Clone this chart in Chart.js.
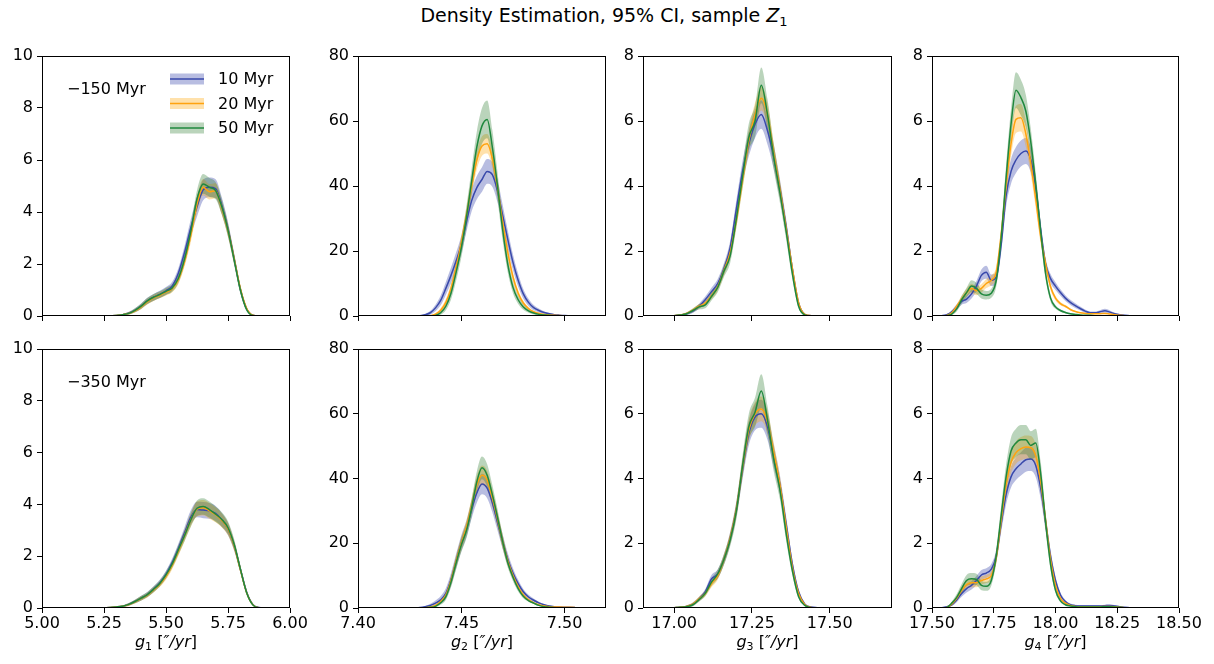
<!DOCTYPE html>
<html><head><meta charset="utf-8">
<script src="https://cdn.jsdelivr.net/npm/chart.js@4.4.1/dist/chart.umd.min.js"></script>
<style>
html,body{margin:0;padding:0;background:#fff;width:1214px;height:664px;overflow:hidden;position:relative;}
#title{position:absolute;left:0;top:4px;width:1208px;text-align:center;font:19px "DejaVu Sans";color:#000;line-height:22px;white-space:nowrap;}
#title .sub{font-size:13px;position:relative;top:4px;}
canvas{position:absolute;}
</style></head><body>
<div id="title">Density Estimation, 95% CI, sample <i>Z</i><span class="sub">1</span></div>
<script>
// ---------------- data ----------------
const seriesNames = ['10 Myr', '20 Myr', '50 Myr'];
const rowNotes = ['\u2212150 Myr', '\u2212350 Myr'];

const x_g1 = [5.200,5.225,5.250,5.275,5.300,5.325,5.350,5.375,5.400,5.425,5.450,5.475,5.500,5.525,5.550,5.575,5.600,5.625,5.650,5.675,5.700,5.725,5.750,5.775,5.800,5.825,5.850,5.875,5.900];
const x_g2 = [7.4200,7.4225,7.4250,7.4275,7.4300,7.4325,7.4350,7.4375,7.4400,7.4425,7.4450,7.4475,7.4500,7.4525,7.4550,7.4575,7.4600,7.4625,7.4650,7.4675,7.4700,7.4725,7.4750,7.4775,7.4800,7.4825,7.4850,7.4875,7.4900,7.4925,7.4950,7.4975,7.5000,7.5025,7.5050,7.5075,7.5100];
const x_g3 = [16.94,16.96,16.98,17.00,17.02,17.04,17.06,17.08,17.10,17.12,17.14,17.16,17.18,17.20,17.22,17.24,17.26,17.28,17.30,17.32,17.34,17.36,17.38,17.40,17.42,17.44,17.46,17.48,17.50];
const x_g4 = [17.52,17.54,17.56,17.58,17.60,17.62,17.64,17.66,17.68,17.70,17.72,17.74,17.76,17.78,17.80,17.82,17.84,17.86,17.88,17.90,17.92,17.94,17.96,17.98,18.00,18.02,18.04,18.06,18.08,18.10,18.12,18.14,18.16,18.18,18.20,18.22,18.24,18.26,18.28,18.30,18.32,18.34,18.36,18.38,18.40];

const xticks_g1 = [5.00,5.25,5.50,5.75,6.00];
const xticks_g2 = [7.40,7.45,7.50];
const xticks_g3 = [17.00,17.25,17.50];
const xticks_g4 = [17.50,17.75,18.00,18.25,18.50];
const yticks_g1 = [0,2,4,6,8,10];
const yticks_g2 = [0,20,40,60,80];
const yticks_g3 = [0,2,4,6,8];
const yticks_g4 = [0,2,4,6,8];

// g1, -150 Myr
const g1_150_10 = [0,0,0,0.01,0.02,0.05,0.11,0.22,0.38,0.58,0.72,0.83,0.97,1.15,1.65,2.45,3.4,4.2,4.85,4.95,4.9,4.25,3.35,2.2,1.02,0.28,0.03,0,0];
const g1_150_20 = [0,0,0,0.01,0.02,0.05,0.1,0.2,0.35,0.55,0.7,0.8,0.92,1.05,1.4,2.1,3.1,4.3,4.95,4.78,4.82,4.15,3.3,2.2,1.05,0.3,0.03,0,0];
const g1_150_50 = [0,0,0,0.01,0.02,0.05,0.1,0.22,0.38,0.58,0.72,0.82,0.95,1.08,1.45,2.2,3.25,4.5,5.08,4.95,4.82,4.2,3.3,2.15,1.0,0.25,0.02,0,0];
const g1_150_10_ci = [0,0,0,0.01,0.02,0.03,0.05,0.08,0.1,0.12,0.13,0.14,0.15,0.17,0.2,0.25,0.32,0.38,0.4,0.38,0.36,0.32,0.27,0.2,0.14,0.07,0.02,0,0];
const g1_150_20_ci = [0,0,0,0.01,0.02,0.03,0.05,0.07,0.09,0.11,0.12,0.12,0.13,0.14,0.17,0.2,0.26,0.3,0.32,0.3,0.29,0.27,0.24,0.18,0.12,0.06,0.02,0,0];
const g1_150_50_ci = [0,0,0,0.01,0.02,0.03,0.05,0.08,0.1,0.12,0.13,0.13,0.14,0.15,0.18,0.22,0.28,0.34,0.38,0.36,0.33,0.3,0.26,0.2,0.14,0.07,0.02,0,0];

// g1, -350 Myr
const g1_350_10 = [0,0,0.01,0.02,0.04,0.07,0.14,0.25,0.38,0.52,0.73,0.97,1.3,1.75,2.3,2.9,3.5,3.8,3.78,3.75,3.65,3.4,3.05,2.4,1.5,0.62,0.14,0.02,0];
const g1_350_20 = [0,0,0.01,0.02,0.04,0.07,0.13,0.24,0.37,0.5,0.7,0.92,1.22,1.65,2.2,2.8,3.4,3.82,3.87,3.75,3.6,3.38,3.05,2.4,1.48,0.6,0.13,0.01,0];
const g1_350_50 = [0,0,0.01,0.02,0.04,0.07,0.14,0.25,0.38,0.52,0.72,0.95,1.28,1.7,2.25,2.8,3.4,3.85,3.92,3.8,3.62,3.42,3.1,2.45,1.5,0.6,0.12,0.01,0];
const g1_350_10_ci = [0,0,0.01,0.01,0.02,0.03,0.05,0.07,0.09,0.1,0.11,0.12,0.14,0.16,0.19,0.23,0.27,0.3,0.31,0.3,0.29,0.27,0.24,0.19,0.13,0.07,0.03,0.01,0];
const g1_350_20_ci = [0,0,0.01,0.01,0.02,0.03,0.05,0.07,0.08,0.09,0.1,0.11,0.13,0.15,0.18,0.21,0.25,0.29,0.3,0.3,0.29,0.27,0.24,0.19,0.13,0.07,0.03,0.01,0];
const g1_350_50_ci = [0,0,0.01,0.01,0.02,0.03,0.05,0.07,0.09,0.1,0.11,0.12,0.14,0.16,0.19,0.22,0.26,0.3,0.32,0.31,0.3,0.28,0.25,0.2,0.14,0.08,0.03,0.01,0];

// g2, -150 Myr
const g2_150_10 = [0,0,0,0,0.1,0.4,1.0,2.5,4.8,8.5,12.5,17,22,29,35.5,39.5,42,44.5,43.5,38.5,31,23.5,16.5,11,6.8,4.2,2.6,1.7,1.1,0.7,0.4,0.25,0.15,0.1,0.05,0.02,0];
const g2_150_20 = [0,0,0,0,0,0,0.1,0.6,1.8,4.2,8.5,15,22.5,31,40,48,52.3,53,48.5,39.5,29,19.5,12,7,4,2.3,1.3,0.8,0.5,0.3,0.2,0.12,0.08,0.05,0.03,0.01,0];
const g2_150_50 = [0,0,0,0,0,0,0,0.2,1.0,3.0,7,13.5,21,30.5,41.5,52,58.5,60.5,52,40,26.5,15.8,8.8,5,2.8,1.6,0.9,0.5,0.3,0.2,0.1,0.05,0.02,0,0,0,0];
const g2_150_10_ci = [0,0,0,0,0.1,0.3,0.6,1,1.5,2,2.4,2.6,2.8,3,3.3,3.6,3.8,3.8,3.7,3.5,3.2,2.8,2.4,2,1.5,1.1,0.8,0.6,0.4,0.3,0.2,0.15,0.1,0.08,0.05,0.02,0];
const g2_150_20_ci = [0,0,0,0,0,0,0.05,0.3,0.6,1,1.6,2,2.3,2.5,2.7,2.9,3,3,2.9,2.6,2.2,1.8,1.4,1,0.7,0.5,0.35,0.25,0.2,0.15,0.1,0.08,0.06,0.04,0.02,0.01,0];
const g2_150_50_ci = [0,0,0,0,0,0,0,0.2,0.6,1.2,2,2.6,3,3.5,4,4.8,5.5,5.8,5.2,4.3,3.3,2.5,1.8,1.3,0.9,0.6,0.4,0.3,0.2,0.15,0.1,0.05,0.02,0,0,0,0];

// g2, -350 Myr
const g2_350_10 = [0,0,0,0.05,0.15,0.4,0.8,1.5,2.5,4.5,8.8,14.5,20,24.5,30.5,35.5,38.3,37,32.5,26.5,20.5,15,10.8,7.5,5,3.4,2.4,1.6,1,0.6,0.4,0.3,0.25,0.2,0.15,0.1,0.05];
const g2_350_20 = [0,0,0,0,0.02,0.1,0.3,0.8,2,4,8.5,14.5,20,25,31.5,38,41,39.5,34,27.5,20.5,14.5,10,6.5,4,2.5,1.6,1,0.6,0.4,0.3,0.3,0.25,0.2,0.15,0.1,0.05];
const g2_350_50 = [0,0,0,0,0,0.05,0.2,0.5,1.6,3.5,8,14,19.5,24,31,39,43.3,41,35,28,20.5,14,9.5,6,3.6,2.3,1.5,0.8,0.4,0.25,0.1,0.05,0.02,0,0,0,0];
const g2_350_10_ci = [0,0,0,0.05,0.1,0.25,0.5,0.8,1.2,1.6,2,2.3,2.5,2.6,2.8,3,3.2,3.1,2.9,2.6,2.3,1.9,1.5,1.2,0.9,0.7,0.5,0.35,0.25,0.2,0.15,0.12,0.1,0.08,0.06,0.04,0.02];
const g2_350_20_ci = [0,0,0,0,0.02,0.05,0.12,0.25,0.5,0.9,1.4,1.8,2,2.2,2.5,2.8,3,2.9,2.7,2.4,2,1.5,1.1,0.8,0.6,0.4,0.3,0.2,0.12,0.1,0.08,0.08,0.07,0.06,0.05,0.03,0.02];
const g2_350_50_ci = [0,0,0,0,0,0.05,0.15,0.3,0.6,1,1.6,2,2.2,2.4,2.8,3.2,3.5,3.4,3,2.6,2.1,1.6,1.2,0.9,0.6,0.4,0.3,0.2,0.1,0.08,0.05,0.03,0.01,0,0,0,0];

// g3, -150 Myr
const g3_150_10 = [0,0,0,0.01,0.03,0.07,0.15,0.3,0.5,0.75,1.0,1.45,2.1,3.3,4.45,5.3,5.9,6.2,5.7,4.9,3.9,2.75,1.45,0.4,0.05,0.01,0,0,0];
const g3_150_20 = [0,0,0,0.01,0.03,0.08,0.18,0.3,0.4,0.62,0.9,1.4,1.95,2.95,4.2,5.4,6.2,6.7,6.2,5.0,3.9,2.7,1.45,0.4,0.05,0.01,0,0,0];
const g3_150_50 = [0,0,0,0.01,0.03,0.07,0.17,0.28,0.34,0.6,0.88,1.38,1.85,3.0,4.3,5.5,6.0,7.1,6.2,4.9,3.8,2.6,1.3,0.3,0.03,0,0,0,0];
const g3_150_10_ci = [0,0,0,0.01,0.02,0.04,0.06,0.08,0.1,0.12,0.14,0.17,0.21,0.27,0.33,0.38,0.42,0.44,0.42,0.37,0.3,0.23,0.15,0.06,0.02,0,0,0,0];
const g3_150_20_ci = [0,0,0,0.01,0.02,0.03,0.05,0.07,0.08,0.1,0.12,0.15,0.18,0.23,0.28,0.32,0.36,0.38,0.36,0.32,0.26,0.2,0.13,0.05,0.01,0,0,0,0];
const g3_150_50_ci = [0,0,0,0.01,0.02,0.04,0.06,0.08,0.1,0.12,0.15,0.18,0.22,0.28,0.35,0.42,0.48,0.55,0.48,0.4,0.32,0.25,0.16,0.06,0.01,0,0,0,0];

// g3, -350 Myr
const g3_350_10 = [0,0,0,0.01,0.02,0.05,0.12,0.28,0.5,0.9,1.05,1.5,2.15,3.05,4.3,5.4,5.9,6.0,5.6,4.7,3.8,2.6,1.35,0.5,0.12,0.03,0.01,0,0];
const g3_350_20 = [0,0,0,0.01,0.02,0.05,0.12,0.28,0.45,0.75,1.0,1.5,2.15,3.05,4.35,5.5,6.0,6.15,5.75,4.8,3.8,2.5,1.25,0.45,0.1,0.02,0,0,0];
const g3_350_50 = [0,0,0,0.01,0.02,0.04,0.1,0.26,0.45,0.8,1.05,1.5,2.1,3.0,4.4,5.6,6.05,6.7,5.8,4.6,3.65,2.3,1.15,0.35,0.08,0.01,0,0,0];
const g3_350_10_ci = [0,0,0,0.01,0.02,0.03,0.05,0.07,0.09,0.12,0.14,0.16,0.2,0.25,0.31,0.37,0.41,0.43,0.41,0.36,0.29,0.22,0.14,0.06,0.02,0.01,0,0,0];
const g3_350_20_ci = [0,0,0,0.01,0.02,0.03,0.05,0.07,0.09,0.11,0.13,0.15,0.18,0.23,0.28,0.33,0.36,0.38,0.36,0.31,0.26,0.19,0.12,0.05,0.02,0,0,0,0];
const g3_350_50_ci = [0,0,0,0.01,0.02,0.03,0.05,0.07,0.09,0.12,0.14,0.17,0.2,0.26,0.33,0.4,0.45,0.52,0.45,0.38,0.3,0.22,0.14,0.06,0.02,0,0,0,0];

// g4, -150 Myr
const g4_150_10 = [0,0.01,0.04,0.13,0.28,0.45,0.52,0.68,0.92,1.25,1.35,1.1,1.2,2.2,3.7,4.45,4.8,5.0,5.08,4.8,3.95,2.65,1.6,1.15,0.92,0.72,0.55,0.42,0.32,0.23,0.15,0.1,0.1,0.13,0.16,0.12,0.07,0.04,0.02,0.01,0,0,0,0,0];
const g4_150_20 = [0,0,0.02,0.1,0.3,0.52,0.72,0.85,0.78,0.85,1.0,1.1,1.35,2.5,4.0,5.3,6.05,6.1,5.6,4.7,3.6,2.45,1.6,0.9,0.55,0.38,0.3,0.2,0.14,0.1,0.08,0.07,0.07,0.07,0.08,0.06,0.04,0.02,0.01,0,0,0,0,0,0];
const g4_150_50 = [0,0,0.01,0.06,0.22,0.5,0.72,0.92,0.85,0.68,0.64,0.7,1.1,2.4,4.25,5.9,6.95,6.72,6.3,5.35,4.05,2.6,1.3,0.55,0.28,0.17,0.11,0.07,0.05,0.03,0.02,0.02,0.01,0.01,0.01,0.01,0,0,0,0,0,0,0,0,0];
const g4_150_10_ci = [0,0.01,0.02,0.05,0.08,0.1,0.12,0.14,0.16,0.18,0.2,0.18,0.18,0.26,0.34,0.38,0.4,0.4,0.4,0.38,0.32,0.25,0.18,0.14,0.12,0.1,0.09,0.08,0.07,0.06,0.05,0.04,0.04,0.05,0.06,0.05,0.03,0.02,0.01,0.01,0,0,0,0,0];
const g4_150_20_ci = [0,0,0.01,0.03,0.06,0.1,0.12,0.14,0.14,0.13,0.14,0.15,0.18,0.25,0.32,0.38,0.42,0.42,0.4,0.35,0.28,0.22,0.16,0.1,0.07,0.05,0.04,0.03,0.02,0.02,0.02,0.01,0.01,0.01,0.02,0.01,0.01,0.01,0,0,0,0,0,0,0];
const g4_150_50_ci = [0,0,0.01,0.03,0.08,0.12,0.15,0.18,0.17,0.14,0.13,0.14,0.2,0.3,0.4,0.48,0.55,0.55,0.5,0.42,0.35,0.26,0.18,0.1,0.06,0.04,0.03,0.02,0.02,0.01,0.01,0.01,0.01,0.01,0.01,0.01,0,0,0,0,0,0,0,0,0];

// g4, -350 Myr
const g4_350_10 = [0,0.01,0.04,0.1,0.25,0.45,0.6,0.7,0.85,1.02,1.08,1.2,1.6,2.6,3.5,4.05,4.3,4.45,4.58,4.6,4.4,3.7,2.65,1.6,0.85,0.4,0.2,0.1,0.07,0.06,0.06,0.06,0.06,0.06,0.07,0.08,0.06,0.04,0.02,0.01,0,0,0,0,0];
const g4_350_20 = [0,0,0.02,0.12,0.3,0.55,0.72,0.78,0.78,0.85,0.9,1.0,1.55,2.7,3.8,4.5,4.8,4.92,4.97,4.95,4.7,3.9,2.7,1.5,0.7,0.3,0.15,0.08,0.05,0.04,0.04,0.04,0.04,0.04,0.05,0.05,0.04,0.02,0.01,0,0,0,0,0,0];
const g4_350_50 = [0,0,0.02,0.15,0.33,0.6,0.85,0.9,0.88,0.7,0.67,0.85,1.6,2.85,4.05,4.85,5.1,5.2,5.2,5.02,5.1,4.15,2.65,1.35,0.55,0.22,0.1,0.06,0.04,0.03,0.03,0.03,0.03,0.03,0.04,0.04,0.03,0.02,0.01,0,0,0,0,0,0];
const g4_350_10_ci = [0,0.01,0.02,0.04,0.07,0.1,0.12,0.13,0.14,0.15,0.15,0.16,0.2,0.26,0.3,0.33,0.35,0.36,0.37,0.37,0.36,0.32,0.26,0.18,0.12,0.08,0.05,0.04,0.03,0.03,0.03,0.03,0.03,0.03,0.03,0.03,0.03,0.02,0.01,0.01,0,0,0,0,0];
const g4_350_20_ci = [0,0,0.01,0.04,0.08,0.11,0.13,0.14,0.14,0.13,0.13,0.14,0.18,0.25,0.3,0.33,0.35,0.36,0.36,0.36,0.34,0.3,0.23,0.14,0.08,0.04,0.02,0.01,0.01,0.01,0.01,0.01,0.01,0.01,0.01,0.01,0.01,0,0,0,0,0,0,0,0];
const g4_350_50_ci = [0,0,0.01,0.05,0.1,0.14,0.17,0.18,0.18,0.15,0.14,0.16,0.22,0.3,0.38,0.42,0.44,0.45,0.45,0.44,0.44,0.38,0.28,0.16,0.08,0.04,0.02,0.01,0.01,0.01,0.01,0.01,0.01,0.01,0.01,0.01,0.01,0,0,0,0,0,0,0,0];

// ---------------- styling / layout ----------------
const lineColors = ['#3949ab', '#ffa30f', '#1f883d'];
const bandColors = ['rgba(57,73,171,0.36)', 'rgba(255,165,0,0.33)', 'rgba(46,125,50,0.33)'];
const colLeft = [42, 358, 643, 932];
const colWidth = [248, 248, 249, 247];
const rowTop = [56, 349];
const rowHeight = [260, 259];
const FONT = '"DejaVu Sans", sans-serif';
const FS = 16;

const panels = [
  {r:0,c:0,xs:x_g1,ys:[g1_150_10,g1_150_20,g1_150_50],ci:[g1_150_10_ci,g1_150_20_ci,g1_150_50_ci],xmin:5.0,xmax:6.0,xt:xticks_g1,ymax:10,yt:yticks_g1,sub:'1',legend:true},
  {r:0,c:1,xs:x_g2,ys:[g2_150_10,g2_150_20,g2_150_50],ci:[g2_150_10_ci,g2_150_20_ci,g2_150_50_ci],xmin:7.40,xmax:7.52,xt:xticks_g2,ymax:80,yt:yticks_g2,sub:'2'},
  {r:0,c:2,xs:x_g3,ys:[g3_150_10,g3_150_20,g3_150_50],ci:[g3_150_10_ci,g3_150_20_ci,g3_150_50_ci],xmin:16.9,xmax:17.7,xt:xticks_g3,ymax:8,yt:yticks_g3,sub:'3'},
  {r:0,c:3,xs:x_g4,ys:[g4_150_10,g4_150_20,g4_150_50],ci:[g4_150_10_ci,g4_150_20_ci,g4_150_50_ci],xmin:17.5,xmax:18.5,xt:xticks_g4,ymax:8,yt:yticks_g4,sub:'4'},
  {r:1,c:0,xs:x_g1,ys:[g1_350_10,g1_350_20,g1_350_50],ci:[g1_350_10_ci,g1_350_20_ci,g1_350_50_ci],xmin:5.0,xmax:6.0,xt:xticks_g1,ymax:10,yt:yticks_g1,sub:'1'},
  {r:1,c:1,xs:x_g2,ys:[g2_350_10,g2_350_20,g2_350_50],ci:[g2_350_10_ci,g2_350_20_ci,g2_350_50_ci],xmin:7.40,xmax:7.52,xt:xticks_g2,ymax:80,yt:yticks_g2,sub:'2'},
  {r:1,c:2,xs:x_g3,ys:[g3_350_10,g3_350_20,g3_350_50],ci:[g3_350_10_ci,g3_350_20_ci,g3_350_50_ci],xmin:16.9,xmax:17.7,xt:xticks_g3,ymax:8,yt:yticks_g3,sub:'3'},
  {r:1,c:3,xs:x_g4,ys:[g4_350_10,g4_350_20,g4_350_50],ci:[g4_350_10_ci,g4_350_20_ci,g4_350_50_ci],xmin:17.5,xmax:18.5,xt:xticks_g4,ymax:8,yt:yticks_g4,sub:'4'}
];

const PADL = 60, PADT = 15, PADR = 30;

function drawParts(ctx, parts, cx, baseY) {
  let total = 0;
  parts.forEach(p => { ctx.font = p.font; p.w = ctx.measureText(p.t).width; total += p.w; });
  let x = cx - total / 2;
  ctx.textAlign = 'left'; ctx.textBaseline = 'alphabetic'; ctx.fillStyle = '#000';
  parts.forEach(p => { ctx.font = p.font; ctx.fillText(p.t, x, baseY + (p.dy || 0)); x += p.w; });
}

const decor = {
  id: 'decor',
  afterDatasetsDraw(chart, args, opts) {
    const {ctx, chartArea: a} = chart;
    const P = opts.panel;
    ctx.save();
    ctx.strokeStyle = '#000'; ctx.lineWidth = 1;
    ctx.strokeRect(Math.round(a.left) + 0.5, Math.round(a.top) + 0.5, Math.round(a.right - a.left) - 1, Math.round(a.bottom - a.top) - 1);
    if (P.c === 0) {
      ctx.font = FS + 'px ' + FONT; ctx.fillStyle = '#000'; ctx.textAlign = 'left'; ctx.textBaseline = 'middle';
      ctx.fillText(rowNotes[P.r], a.left + 25, a.top + 34);
    }
    if (P.legend) {
      const rows = [23, 47.5, 72];
      for (let i = 0; i < 3; i++) {
        const y = a.top + rows[i];
        const x0 = a.left + 128, w = 34, h = 11;
        ctx.fillStyle = bandColors[i];
        ctx.fillRect(x0, y - h / 2, w, h);
        ctx.strokeStyle = lineColors[i]; ctx.lineWidth = 1.5;
        ctx.beginPath(); ctx.moveTo(x0, y); ctx.lineTo(x0 + w, y); ctx.stroke();
        ctx.font = FS + 'px ' + FONT; ctx.fillStyle = '#000'; ctx.textAlign = 'left'; ctx.textBaseline = 'middle';
        ctx.fillText(seriesNames[i], a.left + 176, y + 1);
      }
    }
    if (P.r === 1) {
      const it = 'italic ' + FS + 'px ' + FONT, nf = FS + 'px ' + FONT, sf = '11px ' + FONT;
      drawParts(ctx, [
        {t:'g', font: it}, {t:P.sub, font: sf, dy: 3}, {t:' [', font: nf},
        {t:'\u2033/yr', font: it}, {t:']', font: nf}
      ], (a.left + a.right) / 2, a.bottom + 39);
    }
    ctx.restore();
  }
};

panels.forEach(P => {
  const L = colLeft[P.c], T = rowTop[P.r], W = colWidth[P.c], H = rowHeight[P.r];
  const bottomExtra = P.r === 1 ? 58 : 14;
  const cv = document.createElement('canvas');
  const cw = PADL + W + PADR, ch = PADT + H + bottomExtra;
  cv.width = cw; cv.height = ch;
  cv.style.left = (L - PADL) + 'px'; cv.style.top = (T - PADT) + 'px';
  cv.style.width = cw + 'px'; cv.style.height = ch + 'px';
  document.body.appendChild(cv);

  const datasets = [];
  for (let s = 0; s < 3; s++) {
    const up = P.xs.map((x, i) => ({x, y: P.ys[s][i] + P.ci[s][i]}));
    const lo = P.xs.map((x, i) => ({x, y: Math.max(0, P.ys[s][i] - P.ci[s][i])}));
    datasets.push({data: up, borderWidth: 0, borderColor: 'rgba(0,0,0,0)', backgroundColor: bandColors[s], fill: {target: datasets.length + 1}, pointRadius: 0, cubicInterpolationMode: 'monotone', order: 8 - 2 * s - 1});
    datasets.push({data: lo, borderWidth: 0, borderColor: 'rgba(0,0,0,0)', fill: false, pointRadius: 0, cubicInterpolationMode: 'monotone', order: 8 - 2 * s});
  }
  for (let s = 0; s < 3; s++) {
    datasets.push({label: seriesNames[s], data: P.xs.map((x, i) => ({x, y: P.ys[s][i]})), borderColor: lineColors[s], borderWidth: 1.5, fill: false, pointRadius: 0, cubicInterpolationMode: 'monotone', order: 2 - s});
  }

  const gridOpts = {display: true, drawOnChartArea: false, drawTicks: true, tickLength: 5, tickColor: '#000', tickWidth: 1, color: '#000'};
  new Chart(cv, {
    type: 'line',
    data: {datasets},
    options: {
      responsive: false, animation: false, devicePixelRatio: 1,
      layout: {padding: {top: PADT, right: PADR, left: 0, bottom: P.r === 1 ? 30 : 0}},
      plugins: {legend: {display: false}, tooltip: {enabled: false}, title: {display: false}, filler: {drawTime: 'beforeDatasetsDraw', propagate: false}, decor: {panel: P}},
      events: [],
      scales: {
        x: {
          type: 'linear', min: P.xmin, max: P.xmax,
          afterBuildTicks: sc => { sc.ticks = P.xt.map(v => ({value: v})); },
          afterFit: sc => { sc.height = P.r === 1 ? 28 : 14; sc.paddingLeft = 0; sc.paddingRight = 0; },
          grid: gridOpts, border: {display: false},
          ticks: {display: P.r === 1, color: '#000', font: {family: FONT, size: FS}, padding: 1, maxRotation: 0, autoSkip: false, callback: v => Number(v).toFixed(2)}
        },
        y: {
          type: 'linear', min: 0, max: P.ymax,
          afterBuildTicks: sc => { sc.ticks = P.yt.map(v => ({value: v})); },
          afterFit: sc => { sc.width = PADL; sc.paddingTop = 0; sc.paddingBottom = 0; },
          grid: gridOpts, border: {display: false},
          ticks: {color: '#000', font: {family: FONT, size: FS}, padding: 4, autoSkip: false, callback: v => String(v)}
        }
      }
    },
    plugins: [decor]
  });
});
</script>
</body></html>
